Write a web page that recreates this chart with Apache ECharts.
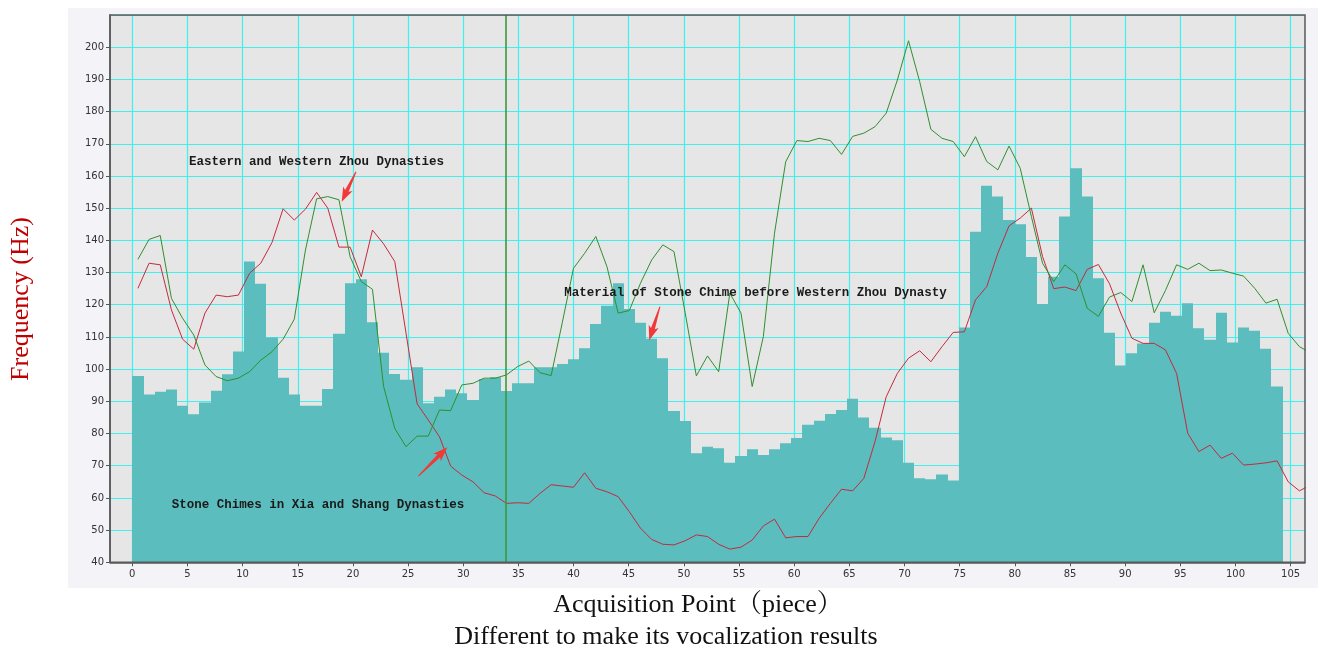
<!DOCTYPE html>
<html>
<head>
<meta charset="utf-8">
<title>Stone chime frequencies</title>
<script src="https://cdn.jsdelivr.net/npm/echarts@6/dist/echarts.min.js"></script>
<style>
  html, body { margin: 0; padding: 0; background: #ffffff; }
  #chart { width: 1320px; height: 648px; }
</style>
</head>
<body>
<div id="chart"></div>
<script>
// Measured frequency (Hz) per acquisition point.
// Bars: stone chime material before the Western Zhou; point i covers [i, i+1].
const materialFreq = [
  97.9, 92.1, 93.0, 93.7, 88.6, 86.0, 89.6, 93.3, 98.4, 105.5,
  133.4, 126.5, 109.8, 97.3, 92.1, 88.6, 88.6, 93.8, 111.0, 126.7,
  127.9, 114.6, 105.1, 98.5, 96.7, 100.6, 89.4, 91.4, 93.7, 92.5,
  90.4, 96.9, 97.5, 93.2, 95.6, 95.6, 100.6, 100.6, 101.6, 103.1,
  106.5, 114.0, 119.7, 126.7, 118.7, 114.4, 109.4, 103.4, 87.0, 83.9,
  73.9, 75.9, 75.4, 70.9, 73.0, 75.1, 73.3, 75.1, 77.0, 78.6,
  82.7, 84.0, 86.1, 87.3, 90.8, 85.0, 81.8, 78.8, 77.9, 70.9,
  66.1, 65.8, 67.3, 65.4, 112.9, 142.7, 157.0, 153.6, 146.3, 145.0,
  134.8, 120.2, 128.7, 147.4, 162.4, 153.6, 128.2, 111.3, 101.1, 104.9,
  108.0, 114.4, 117.8, 116.6, 120.5, 112.7, 109.1, 117.5, 108.3, 112.9,
  111.9, 106.3, 94.6
];

// Red line: stone chimes of the Xia and Shang dynasties (sampled at point centres).
const xiaShangFreq = [
  125.1, 132.9, 132.4, 118.4, 109.3, 106.2, 117.4, 123.0, 122.5, 123.0,
  129.8, 132.9, 139.3, 149.8, 146.3, 149.7, 154.9, 150.0, 137.9, 137.9,
  128.7, 143.2, 138.9, 133.4, 111.3, 89.2, 84.2, 79.0, 69.9, 67.1,
  65.0, 61.6, 60.6, 58.3, 58.5, 58.3, 61.4, 64.1, 63.7, 63.3,
  67.8, 63.0, 61.9, 60.4, 55.7, 50.6, 47.1, 45.6, 45.4, 46.7,
  48.5, 48.0, 45.6, 44.1, 44.7, 46.9, 51.3, 53.4, 47.6, 48.0,
  48.0, 53.7, 58.3, 62.7, 62.2, 66.1, 77.5, 91.4, 98.7, 103.4,
  105.7, 102.3, 107.0, 111.4, 111.6, 121.5, 125.6, 136.0, 144.5, 146.9,
  150.0, 135.0, 125.0, 125.5, 124.4, 131.0, 132.5, 126.5, 117.4, 109.6,
  108.0, 108.0, 106.0, 98.7, 80.1, 74.4, 76.4, 72.3, 73.9, 70.2,
  70.5, 70.9, 71.5, 65.0, 62.2, 64.0
];

// Green line: stone chimes of the Eastern and Western Zhou dynasties.
const zhouFreq = [
  134.1, 140.3, 141.5, 122.0, 115.8, 110.6, 101.3, 97.7, 96.4, 97.2,
  99.2, 102.8, 105.4, 109.3, 115.5, 137.0, 152.9, 153.6, 152.6, 134.9,
  127.2, 124.8, 94.6, 81.6, 75.9, 79.2, 79.2, 87.3, 87.1, 95.1,
  95.6, 97.2, 97.2, 98.2, 100.8, 102.5, 98.9, 98.0, 114.5, 131.3,
  136.0, 141.2, 131.8, 117.4, 118.2, 126.7, 133.9, 138.6, 136.5, 117.5,
  97.9, 104.1, 99.2, 123.6, 117.4, 94.6, 110.1, 142.2, 164.4, 171.0,
  170.7, 171.7, 171.0, 166.7, 172.3, 173.3, 175.3, 179.5, 189.8, 202.0,
  189.3, 174.5, 171.7, 170.7, 166.0, 172.2, 164.5, 161.9, 169.3, 162.4,
  147.4, 132.9, 127.2, 132.4, 129.6, 118.9, 116.4, 122.4, 123.8, 121.0,
  132.4, 117.5, 124.4, 132.4, 131.0, 132.9, 130.6, 130.8, 129.8, 128.9,
  125.1, 120.5, 121.7, 111.1, 107.0, 105.0
];

// Tick labels of the acquisition-point axis.
const xTickLabels = [0, 5, 10, 15, 20, 25, 30, 35, 40, 45, 50, 55, 60, 65, 70, 75, 80, 85, 90, 95, 100, 105];

// Dividing marker between the two groups of samples (point axis).
const dividerPoint = 33.45;

// Text labels and the arrows pointing from them (labelled-axis coordinates).
const noteTexts = [
  'Eastern and Western Zhou Dynasties',
  'Material of Stone Chime before Western Zhou Dynasty',
  'Stone Chimes in Xia and Shang Dynasties'
];

// ---- layout & style ----
const Y_MIN = 40, Y_MAX = 210;
const BAR_COLOR = '#5bbdbd';
const GRID_COLOR = '#3ff0ee';
const RED = '#c42a3f';
const GREEN = '#2f8f2f';
const notePlacement = [
  { at: [5.14, 164.4], tail: [20.28, 161.3], head: [18.98, 152.0] },
  { at: [39.16, 123.6], tail: [47.83, 119.4], head: [46.86, 109.0] },
  { at: [3.57, 58.0], tail: [25.93, 66.8], head: [28.56, 75.7] }
];

const chart = echarts.init(document.getElementById('chart'), null, { renderer: 'canvas' });

const option = {
  backgroundColor: 'transparent',
  animation: false,
  grid: {
    left: 110, right: 15, top: 15, bottom: 85.7,
    show: true,
    backgroundColor: '#e6e6e6',
    borderWidth: 0
  },
  xAxis: [
    {
      // labelled axis
      type: 'value',
      min: -2.02,
      max: 106.3,
      axisLine: { show: true, onZero: false, lineStyle: { color: '#555', width: 1.5 } },
      axisTick: { show: true, length: 4, lineStyle: { color: '#555' }, customValues: xTickLabels },
      axisLabel: {
        customValues: xTickLabels,
        color: '#333', fontSize: 10, fontFamily: 'DejaVu Sans', margin: 7
      },
      splitLine: { show: true, lineStyle: { color: GRID_COLOR, width: 1.2 } }
    },
    {
      // acquisition-point index axis the marks are drawn on
      type: 'value',
      min: -2,
      max: 105,
      show: false,
      splitLine: { show: false }
    }
  ],
  yAxis: {
    type: 'value',
    min: Y_MIN,
    max: Y_MAX,
    interval: 10,
    axisLine: { show: true, onZero: false, lineStyle: { color: '#555', width: 1.5 } },
    axisTick: { show: true, length: 4, lineStyle: { color: '#555' } },
    axisLabel: { color: '#333', fontSize: 10, fontFamily: 'DejaVu Sans', margin: 6, showMaxLabel: false },
    splitLine: { show: true, lineStyle: { color: GRID_COLOR, width: 1.2 } }
  },
  series: [
    {
      name: 'Material of Stone Chime before Western Zhou Dynasty',
      type: 'custom',
      xAxisIndex: 1,
      clip: true,
      encode: { x: 0, y: 1 },
      data: materialFreq.map((v, i) => [i, v]),
      renderItem: function (params, api) {
        const k = api.value(0);
        const top = api.coord([k, api.value(1)]);
        const bottom = api.coord([k + 1, Y_MIN]);
        const x0 = Math.round(top[0]);
        const x1 = Math.round(bottom[0]);
        return {
          type: 'rect',
          shape: { x: x0, y: top[1], width: x1 - x0, height: bottom[1] - top[1] },
          style: { fill: BAR_COLOR }
        };
      }
    },
    {
      name: 'Stone Chimes in Xia and Shang Dynasties',
      type: 'line',
      xAxisIndex: 1,
      data: xiaShangFreq.map((v, i) => [i + 0.5, v]),
      showSymbol: false,
      lineStyle: { color: RED, width: 1 },
      clip: true,
      z: 3
    },
    {
      name: 'Eastern and Western Zhou Dynasties',
      type: 'line',
      xAxisIndex: 1,
      data: zhouFreq.map((v, i) => [i + 0.5, v]),
      showSymbol: false,
      lineStyle: { color: GREEN, width: 1 },
      clip: true,
      z: 4,
      markLine: {
        silent: true,
        symbol: 'none',
        label: { show: false },
        lineStyle: { color: '#3a9a3a', width: 1.6, type: 'solid' },
        data: [{ xAxis: dividerPoint }]
      }
    }
  ]
};

chart.setOption(option);

// ---- overlay: background panel, frame, labels, arrows and axis titles ----
function px(x, y) {
  return chart.convertToPixel({ xAxisIndex: 0, yAxisIndex: 0 }, [x, y]);
}

function arrowPoints(tail, head) {
  const dx = head[0] - tail[0], dy = head[1] - tail[1];
  const len = Math.hypot(dx, dy);
  const ux = dx / len, uy = dy / len;
  const nx = -uy, ny = ux;
  const headLen = 12, headHalf = 5.2, shaftHalf = 2.0, tailHalf = 0.5, notch = 2.5;
  const bx = head[0] - ux * headLen, by = head[1] - uy * headLen;
  return [
    [tail[0] + nx * tailHalf, tail[1] + ny * tailHalf],
    [bx + nx * shaftHalf, by + ny * shaftHalf],
    [bx - ux * notch + nx * headHalf, by - uy * notch + ny * headHalf],
    [head[0], head[1]],
    [bx - ux * notch - nx * headHalf, by - uy * notch - ny * headHalf],
    [bx - nx * shaftHalf, by - ny * shaftHalf],
    [tail[0] - nx * tailHalf, tail[1] - ny * tailHalf]
  ];
}

const topLeft = px(-2.02, Y_MAX);
const bottomRight = px(106.3, Y_MIN);

const elements = [
  {
    type: 'rect', z: -100, silent: true,
    shape: { x: 68, y: 8, width: 1250, height: 580 },
    style: { fill: '#f4f4f8' }
  },
  {
    type: 'rect', z: 100, silent: true,
    shape: {
      x: topLeft[0], y: topLeft[1],
      width: bottomRight[0] - topLeft[0], height: bottomRight[1] - topLeft[1]
    },
    style: { fill: 'none', stroke: '#5a5a5a', lineWidth: 1.5 }
  }
];

notePlacement.forEach((p, i) => {
  const a = px(p.at[0], p.at[1]);
  elements.push({
    type: 'text', z: 101, silent: true,
    x: a[0], y: a[1],
    style: {
      text: noteTexts[i],
      fill: '#1a1a1a',
      font: 'bold 12.5px "Liberation Mono", "DejaVu Sans Mono", monospace',
      textAlign: 'left',
      textVerticalAlign: 'middle'
    }
  });
  elements.push({
    type: 'polygon', z: 102, silent: true,
    shape: { points: arrowPoints(px(p.tail[0], p.tail[1]), px(p.head[0], p.head[1])) },
    style: { fill: '#f03a3a' }
  });
});

elements.push(
  {
    type: 'text', silent: true, x: 698, y: 605,
    style: {
      text: 'Acquisition Point\uFF08piece\uFF09',
      fill: '#111', font: '26px "Liberation Serif", "Noto Serif CJK SC", serif',
      textAlign: 'center', textVerticalAlign: 'middle'
    }
  },
  {
    type: 'text', silent: true, x: 666, y: 637,
    style: {
      text: 'Different to make its vocalization results',
      fill: '#111', font: '26px "Liberation Serif", serif',
      textAlign: 'center', textVerticalAlign: 'middle'
    }
  },
  {
    type: 'text', silent: true, x: 21, y: 299, rotation: Math.PI / 2,
    style: {
      text: 'Frequency (Hz)',
      fill: '#c00000', font: '26px "Liberation Serif", serif',
      textAlign: 'center', textVerticalAlign: 'middle'
    }
  }
);

chart.setOption({ graphic: { elements: elements } });
</script>
</body>
</html>
